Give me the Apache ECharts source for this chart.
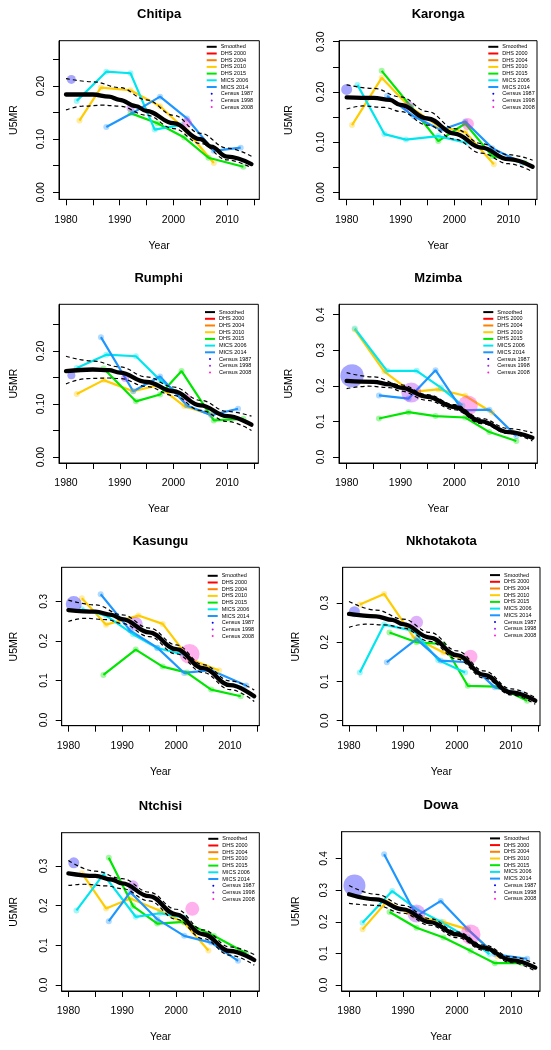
<!DOCTYPE html>
<html><head><meta charset="utf-8">
<script src="https://cdn.jsdelivr.net/npm/echarts@6/dist/echarts.min.js"></script>
<style>html,body{margin:0;padding:0;background:#fff}#c{width:551px;height:1050px}</style>
</head><body><div id="c"></div>
<script>
// ---------------- DATA ----------------
const districts = ['Chitipa','Karonga','Rumphi','Mzimba','Kasungu','Nkhotakota','Ntchisi','Dowa'];
const legendNames = ['Smoothed','DHS 2000','DHS 2004','DHS 2010','DHS 2015','MICS 2006','MICS 2014','Census 1987','Census 1998','Census 2008'];
const xTicks = [1980,1985,1990,1995,2000,2005,2010,2015];
const xTickLabels = [1980,1990,2000,2010];
const yTicks = [
  [0,0.05,0.1,0.15,0.2,0.25],
  [0,0.05,0.1,0.15,0.2,0.25,0.3],
  [0,0.05,0.1,0.15,0.2,0.25],
  [0,0.1,0.2,0.3,0.4],
  [0,0.1,0.2,0.3],
  [0,0.1,0.2,0.3],
  [0,0.1,0.2,0.3],
  [0,0.1,0.2,0.3,0.4]
];
const yTickLabels = [
  [0,0.1,0.2],
  [0,0.1,0.2,0.3],
  [0,0.1,0.2],
  [0,0.1,0.2,0.3,0.4],
  [0,0.1,0.2,0.3],
  [0,0.1,0.2,0.3],
  [0,0.1,0.2,0.3],
  [0,0.1,0.2,0.3,0.4]
];
const yLabelDigits = [2,2,2,1,1,1,1,1];
const xLimits = [[1978.70,2015.96],[1978.58,2015.31],[1978.70,2015.77],[1978.58,2015.40],[1978.76,2015.44],[1978.83,2015.37],[1978.76,2015.44],[1978.64,2015.37]];
const yLimits = [[-0.0132,0.2853],[-0.0139,0.302],[-0.0113,0.288],[-0.0169,0.429],[-0.0143,0.386],[-0.0127,0.391],[-0.0151,0.384],[-0.019,0.485]];

const smoothed = [
  [[1980,0.184],[1985,0.184],[1988,0.180],[1990,0.174],[1993,0.162],[1995,0.153],[2000,0.130],[2005,0.100],[2007,0.086],[2010,0.067],[2014.5,0.053]],
  [[1980,0.189],[1985,0.188],[1988,0.184],[1990,0.174],[1995,0.147],[2000,0.117],[2005,0.089],[2010,0.066],[2014.5,0.051]],
  [[1980,0.162],[1985,0.165],[1988,0.164],[1990,0.159],[1995,0.1415],[2000,0.124],[2005,0.0975],[2010,0.077],[2014.5,0.061]],
  [[1980,0.2136],[1985,0.211],[1988,0.204],[1990,0.195],[1995,0.169],[2000,0.1405],[2005,0.100],[2010,0.070],[2014.5,0.054]],
  [[1980,0.278],[1985,0.274],[1988,0.266],[1990,0.255],[1995,0.2216],[2000,0.179],[2005,0.131],[2010,0.088],[2014.5,0.060]],
  [[1980,0.272],[1985,0.266],[1988,0.257],[1990,0.246],[1995,0.212],[2000,0.167],[2005,0.117],[2010,0.072],[2014.5,0.051]],
  [[1980,0.2815],[1985,0.275],[1988,0.266],[1990,0.256],[1995,0.224],[2000,0.178],[2005,0.128],[2010,0.0857],[2014.5,0.063]],
  [[1980,0.287],[1985,0.271],[1990,0.2395],[1995,0.199],[2000,0.160],[2005,0.118],[2010,0.079],[2014.5,0.055]]
];
const upperBound = [
  [[1980,0.214],[1985,0.208],[1990,0.197],[1995,0.174],[2000,0.145],[2005,0.111],[2010,0.083],[2014.5,0.068]],
  [[1980,0.214],[1985,0.207],[1990,0.190],[1995,0.161],[2000,0.127],[2005,0.097],[2010,0.075],[2014.5,0.064]],
  [[1980,0.190],[1985,0.181],[1990,0.170],[1995,0.151],[2000,0.132],[2005,0.107],[2010,0.086],[2014.5,0.077]],
  [[1980,0.237],[1985,0.225],[1990,0.203],[1995,0.175],[2000,0.147],[2005,0.108],[2010,0.080],[2014.5,0.068]],
  [[1980,0.303],[1985,0.291],[1990,0.266],[1995,0.2325],[2000,0.190],[2005,0.140],[2010,0.099],[2014.5,0.076]],
  [[1980,0.304],[1985,0.282],[1990,0.259],[1995,0.225],[2000,0.178],[2005,0.127],[2010,0.081],[2014.5,0.059]],
  [[1980,0.314],[1985,0.287],[1990,0.268],[1995,0.234],[2000,0.191],[2005,0.139],[2010,0.096],[2014.5,0.077]],
  [[1980,0.315],[1985,0.287],[1990,0.252],[1995,0.210],[2000,0.168],[2005,0.126],[2010,0.089],[2014.5,0.0675]]
];
const lowerBound = [
  [[1980,0.155],[1983,0.162],[1987,0.164],[1990,0.162],[1995,0.145],[2000,0.120],[2005,0.092],[2010,0.061],[2014.5,0.046]],
  [[1980,0.166],[1983,0.172],[1987,0.169],[1990,0.161],[1995,0.134],[2000,0.106],[2005,0.078],[2010,0.057],[2014.5,0.041]],
  [[1980,0.138],[1984,0.148],[1988,0.149],[1990,0.148],[1995,0.133],[2000,0.116],[2005,0.088],[2010,0.067],[2014.5,0.050]],
  [[1980,0.192],[1984,0.199],[1988,0.195],[1990,0.185],[1995,0.159],[2000,0.133],[2005,0.094],[2010,0.066],[2014.5,0.045]],
  [[1980,0.249],[1983,0.257],[1987,0.254],[1990,0.244],[1995,0.211],[2000,0.167],[2005,0.120],[2010,0.077],[2014.5,0.047]],
  [[1980,0.238],[1983,0.246],[1987,0.244],[1990,0.236],[1995,0.202],[2000,0.157],[2005,0.109],[2010,0.066],[2014.5,0.042]],
  [[1980,0.251],[1983,0.254],[1987,0.250],[1990,0.243],[1995,0.212],[2000,0.166],[2005,0.117],[2010,0.075],[2014.5,0.050]],
  [[1980,0.258],[1985,0.252],[1990,0.227],[1995,0.189],[2000,0.150],[2005,0.110],[2010,0.071],[2014.5,0.044]]
];
const dhs2000 = [[],[],[],[],[],[],[],[]];
const dhs2004 = [[],[],[],[],[],[],[],[]];
const dhs2010 = [
  [[1982.5,0.135],[1986.5,0.197],[1992,0.192],[1997.5,0.162],[2002.5,0.115],[2007.5,0.055]],
  [[1981,0.134],[1986.5,0.228],[1991.5,0.172],[1997,0.132],[2002,0.120],[2007.3,0.056]],
  [[1982,0.119],[1987,0.145],[1992.5,0.124],[1997,0.135],[2002,0.096],[2007,0.080]],
  [[1981.5,0.358],[1987,0.240],[1992,0.183],[1997,0.190],[2002,0.172],[2007,0.125]],
  [[1982.5,0.308],[1987,0.241],[1993,0.264],[1997.5,0.243],[2002.5,0.154],[2008,0.125]],
  [[1982,0.296],[1986.5,0.323],[1992,0.212],[1997.5,0.174],[2002,0.153]],
  [[1982.5,0.282],[1987,0.193],[1991.5,0.218],[1997,0.187],[2001.5,0.157],[2006,0.087]],
  [[1982.5,0.176],[1987,0.264],[1992,0.218],[1997.5,0.199],[2002,0.176],[2007.5,0.090]]
];
const dhs2015 = [
  [[1992,0.149],[1997,0.130],[2002,0.103],[2006.5,0.065],[2013,0.048]],
  [[1986.5,0.242],[1992,0.170],[1997,0.102],[2002,0.137],[2007,0.072],[2013,0.059]],
  [[1987,0.167],[1993,0.105],[1997.5,0.118],[2001.5,0.162],[2007.5,0.069],[2013,0.072]],
  [[1986,0.108],[1991.5,0.126],[1996.5,0.115],[2002,0.111],[2006.5,0.070],[2011.5,0.045]],
  [[1986.5,0.114],[1992.5,0.178],[1997.5,0.135],[2002,0.120],[2006.5,0.077],[2012,0.060]],
  [[1987.5,0.225],[1992.5,0.200],[1997.5,0.195],[2002,0.089],[2007.5,0.087],[2013,0.051]],
  [[1987.5,0.321],[1992,0.199],[1996.5,0.155],[2001.5,0.159],[2007,0.124],[2013,0.080]],
  [[1987.5,0.231],[1992.5,0.181],[1997.5,0.150],[2002.5,0.108],[2007,0.069],[2012,0.069]]
];
const mics2006 = [
  [[1982,0.172],[1987.5,0.227],[1992,0.224],[1996.5,0.118],[2001.5,0.127]],
  [[1982,0.214],[1987,0.116],[1991,0.105],[1997,0.112],[2002.5,0.098]],
  [[1982,0.168],[1987.5,0.193],[1993,0.190],[1997.5,0.145],[2002,0.113]],
  [[1981.5,0.361],[1987.5,0.242],[1993,0.242],[1997.5,0.195],[2001.5,0.145]],
  [[1982.5,0.280],[1987,0.264],[1992,0.217],[1996.5,0.182],[2001.5,0.165]],
  [[1982,0.123],[1986.5,0.245],[1992,0.229],[1996.5,0.155],[2001.5,0.123]],
  [[1981.5,0.188],[1986.5,0.279],[1992.5,0.172],[1997,0.181],[2001.5,0.170]],
  [[1982.5,0.197],[1988,0.297],[1992.5,0.240],[1997,0.200],[2002,0.150],[2006,0.098]]
];
const mics2014 = [
  [[1987.5,0.123],[1992.5,0.150],[1997.5,0.180],[2002.5,0.139],[2007.5,0.078],[2012.5,0.084]],
  [[1987.5,0.192],[1992.5,0.151],[1997.5,0.124],[2002,0.141],[2007,0.088],[2012.5,0.059]],
  [[1986.5,0.226],[1992.5,0.124],[1997.5,0.152],[2002.5,0.097],[2007,0.079],[2012,0.091]],
  [[1986,0.173],[1991.5,0.164],[1996.5,0.244],[2001.5,0.131],[2006.5,0.133],[2011.5,0.059]],
  [[1986,0.318],[1991.5,0.226],[1996.5,0.183],[2001.5,0.119],[2006.5,0.126],[2013,0.087]],
  [[1987,0.149],[1992.5,0.208],[1997,0.153],[2002,0.149],[2007,0.085],[2012,0.068]],
  [[1987.5,0.161],[1991.5,0.234],[1996.5,0.166],[2001.5,0.124],[2006.5,0.107],[2011.5,0.061]],
  [[1986.5,0.414],[1992.5,0.218],[1997,0.266],[2002,0.176],[2007,0.097],[2013,0.083]]
];
// [year, U5MR, relative weight (bubble radius)]
const census1987 = [[1981,0.2125,4.5],[1980,0.205,5.5],[1981,0.154,4],[1981,0.228,11.7],[1981,0.293,8],[1981,0.278,5.5],[1981,0.308,5.5],[1981,0.315,11]];
const census1998 = [[1992,0.159,4],[1991.5,0.172,5],[1991,0.149,4],[1992,0.181,10],[1992.5,0.243,7],[1992.5,0.251,6.5],[1992,0.250,5.5],[1992.5,0.226,9]];
const census2008 = [[2002.5,0.131,5],[2002.5,0.136,6],[2002.5,0.111,4],[2002.5,0.145,10],[2002.5,0.167,10],[2002.5,0.163,7],[2003,0.192,7],[2002.5,0.160,10]];

// ---------------- LAYOUT / STYLE ----------------
const boxes = [
  {l:59, t:40.7, w:200.3, h:158.6, lg:[206.7,43.8], yn:39.5},
  {l:339, t:40.7, w:198, h:158.6, lg:[488.3,43.8], yn:44},
  {l:59, t:304.3, w:199.3, h:158.7, lg:[205,309.1], yn:39.5},
  {l:339, t:304.3, w:198.3, h:158.7, lg:[483.3,309.1], yn:44},
  {l:61.7, t:567.3, w:197.6, h:158.4, lg:[207.7,572.8], yn:42},
  {l:342.7, t:567.3, w:197.3, h:158.4, lg:[490,572.1], yn:41.4},
  {l:61.7, t:832.7, w:197.6, h:158.3, lg:[208.3,835.8], yn:42},
  {l:341.7, t:831.7, w:198.3, h:159.3, lg:[490,835.4], yn:40.4}
];
const FONT = '"Liberation Sans", Arial, Helvetica, sans-serif';
const colors = {
  'Smoothed':'#000000','DHS 2000':'#FF0000','DHS 2004':'#FF7F00','DHS 2010':'#FFCC00',
  'DHS 2015':'#00E600','MICS 2006':'#00E5EE','MICS 2014':'#1E96FF',
  'Census 1987':'#0000FF','Census 1998':'#A020F0','Census 2008':'#FF1FCF'
};
const surveySets = [['DHS 2000',dhs2000],['DHS 2004',dhs2004],['DHS 2010',dhs2010],['DHS 2015',dhs2015],['MICS 2006',mics2006],['MICS 2014',mics2014]];
const censusSets = [['Census 1987',census1987],['Census 1998',census1998],['Census 2008',census2008]];

const grid = [], xAxis = [], yAxis = [], series = [], title = [], legend = [];
districts.forEach((name, i) => {
  const b = boxes[i];
  grid.push({left:b.l, top:b.t, width:b.w, height:b.h, show:true, borderColor:'#000', borderWidth:1, backgroundColor:'rgba(0,0,0,0)', containLabel:false});
  title.push({text:name, left:b.l + b.w/2, top:b.t - 26, textAlign:'center', textVerticalAlign:'middle', padding:0,
    textStyle:{fontFamily:FONT, fontSize:13, fontWeight:'bold', color:'#000'}});
  xAxis.push({type:'value', gridIndex:i, min:xLimits[i][0], max:xLimits[i][1],
    axisLine:{show:true, onZero:false, lineStyle:{color:'#000', width:1}},
    axisTick:{show:true, length:6, customValues:xTicks, lineStyle:{color:'#000', width:1}},
    axisLabel:{customValues:xTickLabels, margin:15, fontFamily:FONT, fontSize:10.5, color:'#000', formatter:v=>String(v)},
    splitLine:{show:false},
    name:'Year', nameLocation:'middle', nameGap:41, nameTextStyle:{fontFamily:FONT, fontSize:10.5, color:'#000'}});
  yAxis.push({type:'value', gridIndex:i, min:yLimits[i][0], max:yLimits[i][1],
    axisLine:{show:true, onZero:false, lineStyle:{color:'#000', width:1}},
    axisTick:{show:true, length:6, customValues:yTicks[i], lineStyle:{color:'#000', width:1}},
    axisLabel:{customValues:yTickLabels[i], rotate:90, margin:12, fontFamily:FONT, fontSize:10.5, color:'#000',
      formatter:v=>Number(v).toFixed(yLabelDigits[i])},
    splitLine:{show:false},
    name:'U5MR', nameLocation:'middle', nameRotate:90, nameGap:b.yn, nameTextStyle:{fontFamily:FONT, fontSize:10.5, color:'#000'}});

  surveySets.forEach(([sname, arr]) => {
    series.push({type:'line', name:sname, xAxisIndex:i, yAxisIndex:i, data:arr[i], z:2,
      symbol:'circle', symbolSize:6, showSymbol:true,
      itemStyle:{color:colors[sname], opacity:0.35, borderWidth:0},
      lineStyle:{color:colors[sname], width:2.2}, emphasis:{disabled:true}, animation:false});
  });
  censusSets.forEach(([sname, arr]) => {
    series.push({type:'scatter', name:sname, xAxisIndex:i, yAxisIndex:i, data:[arr[i]], z:3,
      symbol:'circle', symbolSize:d=>d[2]*2,
      itemStyle:{color:colors[sname], opacity:0.35, borderWidth:0}, emphasis:{disabled:true}, animation:false});
  });
  [upperBound, lowerBound].forEach((arr, k) => {
    series.push({type:'line', name:k===0?'Upper bound':'Lower bound', xAxisIndex:i, yAxisIndex:i, data:arr[i], z:4,
      smooth:0.4, smoothMonotone:'x', showSymbol:false, symbol:'none',
      lineStyle:{color:'#000', width:1.2, type:[4,3]}, emphasis:{disabled:true}, animation:false});
  });
  series.push({type:'line', name:'Smoothed', xAxisIndex:i, yAxisIndex:i, data:smoothed[i], z:5,
    smooth:0.4, smoothMonotone:'x', showSymbol:false, symbol:'none',
    itemStyle:{color:'#000'}, lineStyle:{color:'#000', width:4.3, cap:'round'}, emphasis:{disabled:true}, animation:false});

  legend.push({orient:'vertical', left:b.lg[0], top:b.lg[1], padding:0, itemGap:0.7, itemWidth:10, itemHeight:2,
    selectedMode:false, itemStyle:{opacity:1, borderWidth:0},
    textStyle:{fontFamily:FONT, fontSize:5.5, color:'#000', padding:[0,0,0,-1]},
    data: legendNames.map(n => ({name:n, icon: n.startsWith('Census') ? 'circle' : 'rect'}))});
});

const chart = echarts.init(document.getElementById('c'), null, {renderer:'canvas'});
chart.setOption({backgroundColor:'#fff', animation:false, title, legend, grid, xAxis, yAxis, series});
</script>
</body></html>
